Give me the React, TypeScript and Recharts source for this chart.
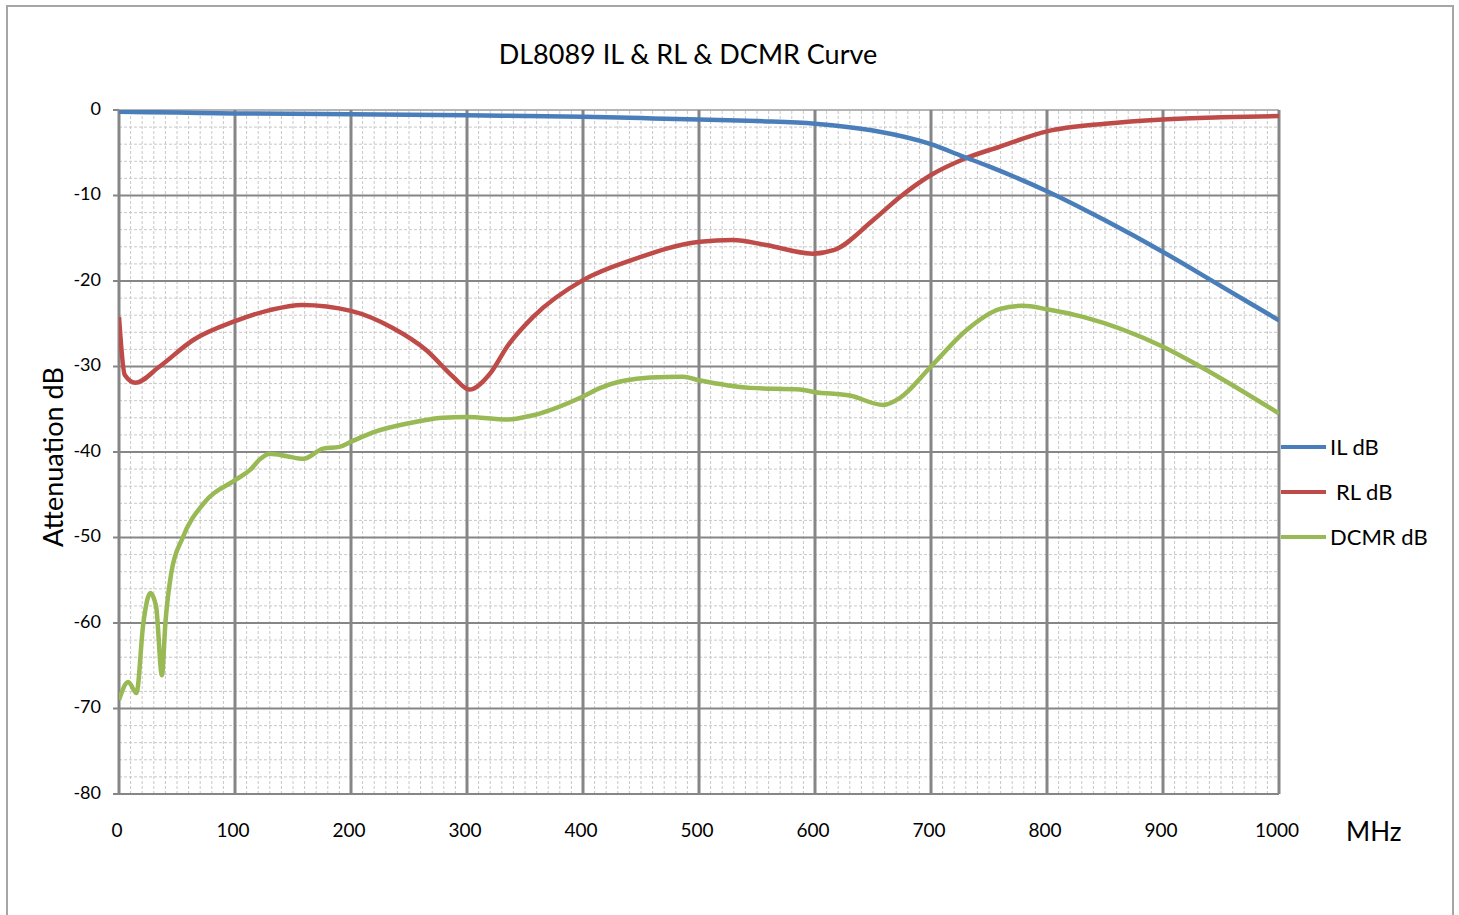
import React from 'react';
import { LineChart, Line, XAxis, YAxis, ReferenceLine } from 'recharts';

// frequency (MHz) / attenuation (dB) samples
const ilFreq = [0, 50, 100, 150, 200, 250, 300, 350, 400, 450, 500, 550, 600, 650, 700, 725, 750, 800, 850, 900, 950, 1000];
const ilDb = [-0.2, -0.3, -0.4, -0.45, -0.5, -0.55, -0.6, -0.7, -0.8, -0.95, -1.1, -1.3, -1.6, -2.4, -4.0, -5.3, -6.6, -9.5, -12.9, -16.6, -20.6, -24.6];

const rlFreq = [0, 5, 14, 35, 64, 100, 130, 158, 200, 236, 265, 288, 302, 320, 335, 357, 400, 443, 501, 529, 558, 598, 616, 650, 673, 700, 729, 759, 800, 850, 900, 950, 1000];
const rlDb = [-24.2, -31.0, -31.9, -30.0, -26.9, -24.7, -23.4, -22.8, -23.5, -25.5, -28.1, -31.2, -32.7, -30.8, -27.6, -24.2, -19.9, -17.5, -15.4, -15.2, -15.8, -16.8, -16.4, -12.9, -10.2, -7.6, -5.7, -4.3, -2.5, -1.6, -1.1, -0.85, -0.7];

const dcmrFreq = [0, 8, 15, 21, 27, 32, 37, 40, 45, 55, 73, 100, 113, 122, 130, 145, 159, 176, 190, 200, 219, 251, 279, 300, 335, 357, 400, 415, 458, 486, 500, 544, 587, 600, 630, 659, 673, 700, 731, 759, 779, 800, 831, 900, 932, 1000];
const dcmrDb = [-69.0, -66.9, -68.2, -60.0, -56.5, -58.1, -66.1, -60.0, -54.2, -50.0, -46.0, -43.3, -42.1, -40.8, -40.2, -40.5, -40.8, -39.6, -39.4, -38.8, -37.7, -36.6, -36.0, -35.9, -36.2, -35.7, -33.5, -32.5, -31.3, -31.2, -31.6, -32.5, -32.7, -33.0, -33.4, -34.5, -33.7, -30.0, -25.7, -23.3, -22.9, -23.3, -24.2, -27.7, -30.0, -35.5];

const xTicks = [0, 100, 200, 300, 400, 500, 600, 700, 800, 900, 1000];
const yTicks = [0, -10, -20, -30, -40, -50, -60, -70, -80];
const xMinor = Array.from({ length: 101 }, (_, i) => i * 10);
const yMinor = Array.from({ length: 41 }, (_, i) => -i * 2);

const zip = (xs: number[], ys: number[]) => xs.map((x, i) => ({ f: x, v: ys[i] }));

const FONT = 'Lato, "Open Sans", sans-serif';
const IL_COLOR = '#4a7ebb';
const RL_COLOR = '#be4b48';
const DCMR_COLOR = '#98b954';
const MAJOR = '#868686';
const MINOR = '#c8c8c8';

const XTick = ({ x, y, payload }: any) => (
  <text x={x - 2} y={y + 30} textAnchor="middle" dominantBaseline="middle" fontSize={19} fill="#000" fontFamily={FONT}>
    {payload.value}
  </text>
);

const YTick = ({ x, y, payload }: any) => (
  <text x={101} y={y} textAnchor="end" dominantBaseline="middle" fontSize={18} fill="#000" fontFamily={FONT}>
    {payload.value}
  </text>
);

const legendItems = [
  { name: 'IL dB', color: IL_COLOR, pad: 4 },
  { name: 'RL dB', color: RL_COLOR, pad: 10 },
  { name: 'DCMR dB', color: DCMR_COLOR, pad: 4 },
];

export default function App() {
  return (
    <div style={{ position: 'absolute', left: 0, top: 0, width: 1459, height: 915, background: '#fff', overflow: 'hidden' }}>
      <div style={{ position: 'absolute', left: 6, top: 5, width: 1448, height: 920, border: '2px solid #a6a6a6', boxSizing: 'border-box' }} />
      <div style={{ position: 'absolute', left: 0, top: 37, width: 1376, textAlign: 'center', fontFamily: FONT, fontSize: 27, color: '#000' }}>
        DL8089 IL &amp; RL &amp; DCMR Curve
      </div>
      <div style={{ position: 'absolute', left: 52, top: 457, transform: 'translate(-50%, -50%) rotate(-90deg)', whiteSpace: 'nowrap', fontFamily: FONT, fontSize: 27, color: '#000' }}>
        Attenuation dB
      </div>
      <div style={{ position: 'absolute', left: 1346, top: 815, fontFamily: FONT, fontSize: 26, color: '#000' }}>MHz</div>
      <div style={{ position: 'absolute', left: 1281, top: 424, fontFamily: FONT }}>
        {legendItems.map((it) => (
          <div key={it.name} style={{ display: 'flex', alignItems: 'center', height: 45 }}>
            <div style={{ width: 45, height: 4, background: it.color }} />
            <span style={{ fontSize: 22, marginLeft: it.pad, color: '#000' }}>{it.name}</span>
          </div>
        ))}
      </div>
      <div style={{ position: 'absolute', left: 0, top: 0 }}>
        <LineChart width={1459} height={915} margin={{ top: 110, right: 180, left: 0, bottom: 81 }}>
          <XAxis dataKey="f" type="number" domain={[0, 1000]} ticks={xTicks} allowDataOverflow axisLine={false} tickLine={false} height={40} tick={<XTick />} interval={0} />
          <YAxis type="number" domain={[-80, 0]} ticks={yTicks} allowDataOverflow axisLine={false} width={119} tickSize={6} tickLine={{ stroke: MAJOR, strokeWidth: 2 }} tick={<YTick />} interval={0} />
          {xMinor.filter((v) => v % 100 !== 0).map((v) => (
            <ReferenceLine key={'xm' + v} x={v} stroke={MINOR} strokeWidth={1} strokeDasharray="3 2" />
          ))}
          {yMinor.filter((v) => v % 10 !== 0).map((v) => (
            <ReferenceLine key={'ym' + v} y={v} stroke={MINOR} strokeWidth={1} strokeDasharray="3 2" />
          ))}
          {yTicks.map((v) => (
            <ReferenceLine key={'yM' + v} y={v} stroke={v === 0 ? '#b5b5b5' : MAJOR} strokeWidth={2} />
          ))}
          {xTicks.map((v) => (
            <ReferenceLine key={'xM' + v} x={v} stroke={MAJOR} strokeWidth={3} />
          ))}
          <Line data={zip(dcmrFreq, dcmrDb)} dataKey="v" name="DCMR dB" type="monotone" stroke={DCMR_COLOR} strokeWidth={4.5} dot={false} isAnimationActive={false} />
          <Line data={zip(rlFreq, rlDb)} dataKey="v" name="RL dB" type="monotone" stroke={RL_COLOR} strokeWidth={4.5} dot={false} isAnimationActive={false} />
          <Line data={zip(ilFreq, ilDb)} dataKey="v" name="IL dB" type="monotone" stroke={IL_COLOR} strokeWidth={4.5} dot={false} isAnimationActive={false} />
        </LineChart>
      </div>
    </div>
  );
}
